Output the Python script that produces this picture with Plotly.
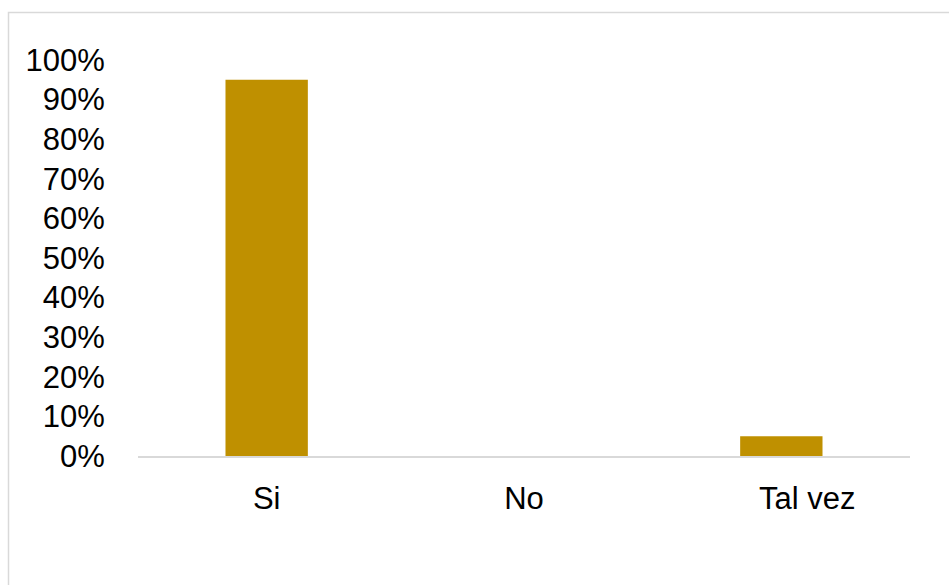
import plotly.graph_objects as go

# Survey responses (share of respondents)
categories = ["Si", "No", "Tal vez"]
shares = [0.95, 0.0, 0.05]
# Category labels as printed under the axis ("Tal vez" sits a little right of its bar)
tick_labels = ["Si", "No", "\u00a0" * 6 + "Tal vez"]

W, H = 949, 585
L, R, T, B = 138, 39, 60, 129
plot_w = W - L - R
plot_h = H - T - B

def px_to_paper_x(px):
    return (px - L) / plot_w

def px_to_paper_y(py):
    return (H - B - py) / plot_h

fig = go.Figure(
    go.Bar(
        x=categories,
        y=shares,
        marker=dict(color="#BF9000", line=dict(width=0)),
        hoverinfo="x+y",
    )
)

font_family = "Liberation Sans, Arial, sans-serif"

fig.update_layout(
    width=W,
    height=H,
    margin=dict(l=L, r=R, t=T, b=B),
    paper_bgcolor="white",
    plot_bgcolor="white",
    bargap=0.68,
    showlegend=False,
    font=dict(family=font_family, size=31, color="#000000"),
    xaxis=dict(
        tickmode="array",
        tickvals=categories,
        ticktext=tick_labels,
        showgrid=False,
        showline=True,
        linecolor="#d9d9d9",
        linewidth=1.5,
        ticks="outside",
        ticklen=14,
        tickcolor="rgba(0,0,0,0)",
        tickfont=dict(size=31),
        fixedrange=True,
    ),
    yaxis=dict(
        range=[0, 1],
        dtick=0.1,
        tickformat=".0%",
        showgrid=False,
        zeroline=False,
        showline=False,
        ticks="outside",
        ticklen=26,
        tickcolor="rgba(0,0,0,0)",
        tickfont=dict(size=31),
        fixedrange=True,
    ),
    shapes=[
        dict(
            type="rect",
            xref="paper",
            yref="paper",
            x0=px_to_paper_x(8.5),
            x1=px_to_paper_x(965),
            y0=px_to_paper_y(600),
            y1=px_to_paper_y(12.5),
            line=dict(color="#d9d9d9", width=1.5),
            fillcolor="rgba(0,0,0,0)",
            layer="below",
        )
    ],
)

fig.write_html("out.html")
